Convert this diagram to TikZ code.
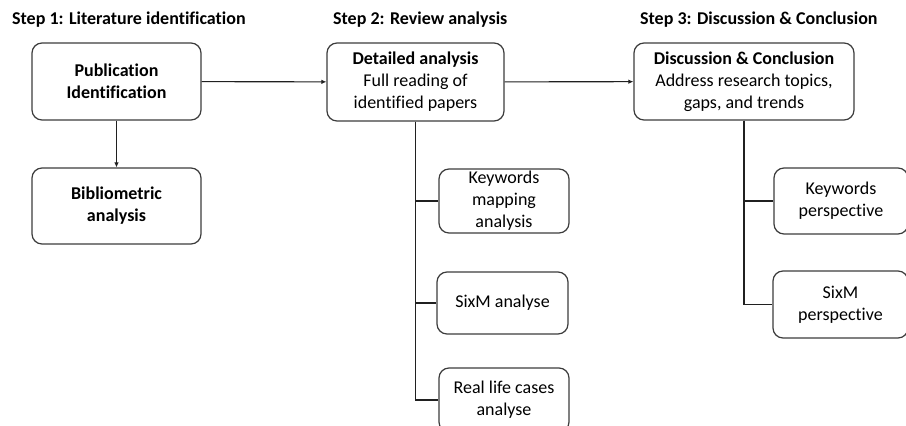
\documentclass[tikz,border=0pt]{standalone}
\usepackage{fontspec}
\setmainfont[Ligatures={NoCommon}]{Carlito}
\usetikzlibrary{arrows.meta}
\definecolor{boxline}{HTML}{3C3C3C}
\definecolor{wire}{HTML}{202020}
\begin{document}
\begin{tikzpicture}[x=1pt,y=-1pt,
  box/.style={draw=boxline, line width=1.2pt, rounded corners=10pt, align=center,
    inner sep=2pt, font=\fontsize{18}{22}\selectfont, text=black},
  steptitle/.style={anchor=west, font=\fontsize{18}{22}\selectfont\bfseries, inner sep=0pt},
  link/.style={draw=wire, line width=1.1pt},
  arrow/.style={link, -{Latex[length=5pt,width=4.5pt]}}]
\clip (0,0) rectangle (906,426);
\fill[white] (0,0) rectangle (906,426);

% column titles
\node[steptitle] (t1) at (12,20) {Step 1: Literature identification};
\node[steptitle] (t2) at (333,20) {Step 2: Review analysis};
\node[steptitle] (t3) at (640,20) {Step 3: Discussion \& Conclusion};

% step 1
\node[box, minimum width=169pt, minimum height=77pt] (pub) at (116.5,81.5)
  {\textbf{Publication}\\\textbf{Identification}};
\node[box, minimum width=169pt, minimum height=76pt] (bib) at (116.5,206)
  {\textbf{Bibliometric}\\\textbf{analysis}};

% step 2
\node[box, minimum width=177pt, minimum height=78pt] (det) at (415.5,82)
  {\textbf{Detailed analysis}\\Full reading of\\identified papers};
\node[box, minimum width=130pt, minimum height=64pt] (kmap) at (504,201)
  {Keywords\\mapping\\analysis};
\node[box, minimum width=131pt, minimum height=62pt] (sixa) at (502.5,303)
  {SixM analyse};
\node[box, minimum width=130pt, minimum height=64pt] (real) at (504,400)
  {Real life cases\\analyse};

% step 3
\node[box, minimum width=220pt, minimum height=77pt] (disc) at (744,81.5)
  {\textbf{Discussion \& Conclusion}\\Address research topics,\\gaps, and trends};
\node[box, minimum width=134pt, minimum height=66pt] (kper) at (841,201)
  {Keywords\\perspective};
\node[box, minimum width=135pt, minimum height=67pt] (sper) at (840.5,304.5)
  {SixM\\perspective};

% connectors
\draw[arrow] (pub) -- (bib);
\draw[arrow] (pub) -- (det);
\draw[arrow] (det) -- (disc);
\draw[link] (det.south) |- (kmap.west);
\draw[link] (det.south) |- (sixa.west);
\draw[link] (det.south) |- (real.west);
\draw[link] (disc.south) |- (kper.west);
\draw[link] (disc.south) |- (sper.west);
\end{tikzpicture}
\end{document}
